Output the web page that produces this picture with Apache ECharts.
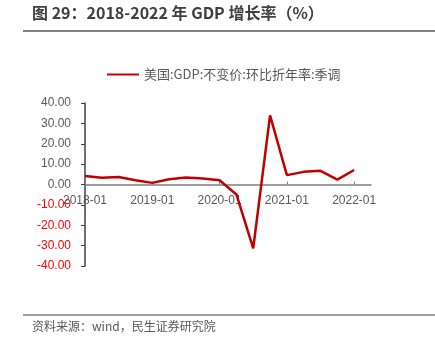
<!DOCTYPE html>
<html>
<head>
<meta charset="utf-8">
<script src="https://cdn.jsdelivr.net/npm/echarts@6/dist/echarts.min.js"></script>
<style>
  html, body { margin: 0; padding: 0; background: #fff; }
  #chart { width: 435px; height: 347px; }
</style>
</head>
<body>
<div id="chart"></div>
<script>
// Quarterly periods (first month of each quarter)
const quarters = [
  '2018-01','2018-04','2018-07','2018-10',
  '2019-01','2019-04','2019-07','2019-10',
  '2020-01','2020-04','2020-07','2020-10',
  '2021-01','2021-04','2021-07','2021-10',
  '2022-01','2022-04'
];
// 美国:GDP:不变价:环比折年率:季调 (%)
const gdpSaar = [
  4.2, 3.3, 3.7, 2.1,
  0.8, 2.6, 3.4, 2.9,
  2.1, -4.9, -31.3, 33.9,
  4.6, 6.2, 6.7, 2.4,
  7.1, null
];
const seriesName = '美国:GDP:不变价:环比折年率:季调';
const titleText = '图 29：2018-2022 年 GDP 增长率（%）';
const sourceText = '资料来源：wind，民生证券研究院';

const chart = echarts.init(document.getElementById('chart'));
const cjk = '"Noto Sans CJK SC", "Noto Sans", sans-serif';

const gridTop = 103, gridBottom = 81, chartH = 347;
const yMin = -40, yMax = 40;
// distance from the plot bottom up to the zero line
const zeroOffset = (chartH - gridTop - gridBottom) * (0 - yMin) / (yMax - yMin);

chart.setOption({
  animation: false,
  textStyle: { fontFamily: cjk },
  legend: {
    top: 63,
    left: 102,
    itemWidth: 32,
    itemHeight: 10,
    itemGap: 4,
    icon: 'path://M0,4 L32,4 L32,6 L0,6 Z',
    textStyle: { color: '#595959', fontSize: 13, fontFamily: cjk },
    data: [seriesName]
  },
  grid: { left: 85, right: 64, top: gridTop, bottom: gridBottom },
  xAxis: {
    type: 'category',
    data: quarters,
    boundaryGap: false,
    offset: -zeroOffset,
    axisLine: { onZero: false, lineStyle: { color: '#7f7f7f', width: 1.5 } },
    axisTick: { show: true, inside: true, interval: 3, length: 3, lineStyle: { color: '#7f7f7f' } },
    axisLabel: {
      interval: 3,
      color: '#595959',
      fontSize: 12,
      fontFamily: 'Liberation Sans, Arial, sans-serif',
      margin: 10
    },
    splitLine: { show: false }
  },
  yAxis: {
    type: 'value',
    min: yMin,
    max: yMax,
    interval: 10,
    axisLine: { show: true, onZero: false, lineStyle: { color: '#404040', width: 1.5 } },
    axisTick: { show: true, length: 4, lineStyle: { color: '#404040' } },
    axisLabel: {
      fontSize: 12,
      fontFamily: 'Liberation Sans, Arial, sans-serif',
      margin: 14,
      color: function (v) { return Number(v) < 0 ? '#ff0000' : '#595959'; },
      formatter: function (v) { return Number(v).toFixed(2); }
    },
    splitLine: { show: false }
  },
  series: [{
    name: seriesName,
    type: 'line',
    data: gdpSaar,
    symbol: 'none',
    lineStyle: { color: '#c00000', width: 2.5 },
    itemStyle: { color: '#c00000' }
  }],
  graphic: [
    {
      type: 'text', left: 32, top: 5,
      style: { text: titleText, font: 'bold 16px ' + cjk, fill: '#404040' }
    },
    {
      type: 'line', shape: { x1: 23, y1: 31, x2: 435, y2: 31 },
      style: { stroke: '#595959', lineWidth: 1.5 }
    },
    {
      type: 'line', shape: { x1: 23, y1: 315, x2: 435, y2: 315 },
      style: { stroke: '#7f7f7f', lineWidth: 1.5 }
    },
    {
      type: 'text', left: 32, top: 320,
      style: { text: sourceText, font: '12px ' + cjk, fill: '#595959' }
    }
  ]
});
</script>
</body>
</html>
